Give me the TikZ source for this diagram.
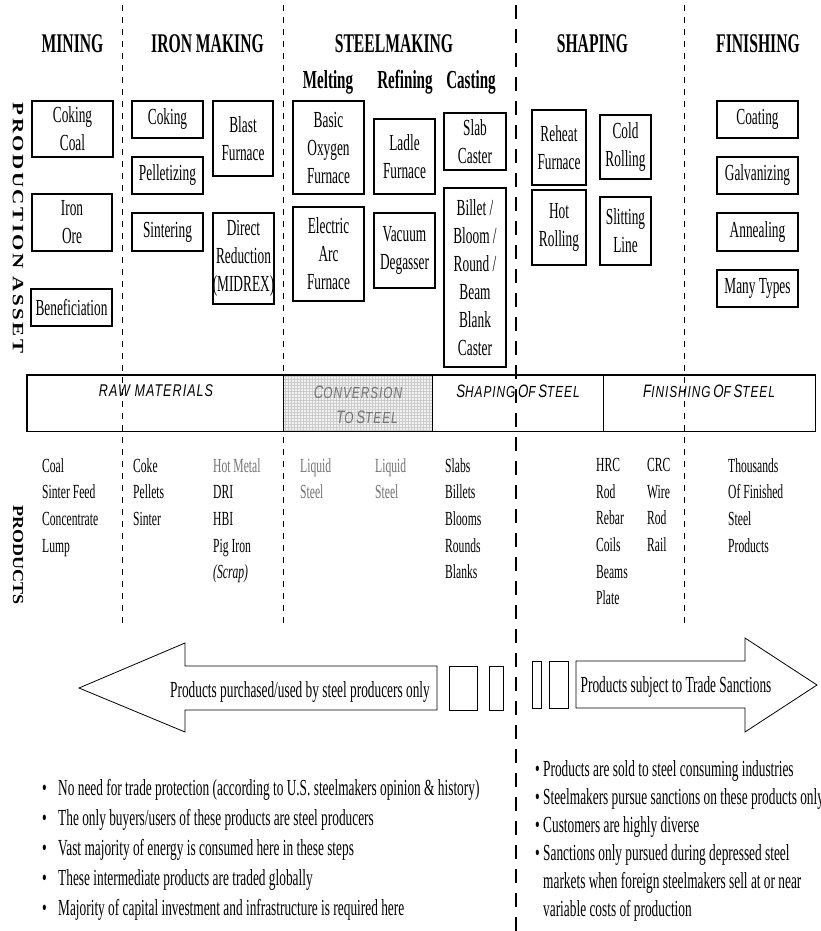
\documentclass[tikz,border=0pt]{standalone}
\usepackage{fontspec}
\setmainfont{Liberation Serif}[FakeStretch=0.58]
\newfontfamily\bannerfont{Liberation Sans}[FakeStretch=0.74,LetterSpace=6]
\newfontfamily\sidefont{Liberation Serif}
\newfontfamily\sidespaced{Liberation Serif}[LetterSpace=12]
\usetikzlibrary{patterns}

\newcommand\boxfont{\fontsize{23}{28}\selectfont}
\newcommand\prodfont{\fontsize{20}{26.7}\selectfont}
\newcommand\listfont{\fontsize{23}{30}\selectfont}
\newcommand\headfont{\fontsize{27}{30}\selectfont\bfseries}
\newcommand\subheadfont{\fontsize{26}{30}\selectfont\bfseries}
\newcommand\bsc[2]{{\fontsize{18}{20}\selectfont #1}{\fontsize{16}{20}\selectfont #2}}

\tikzset{
  asset/.style={draw, line width=1.2pt, align=center, inner sep=0pt, font=\boxfont},
  heading/.style={font=\headfont, inner sep=0pt, anchor=base},
  subheading/.style={font=\subheadfont, inner sep=0pt, anchor=base},
  product/.style={font=\prodfont, align=left, inner sep=0pt, anchor=north west},
  cell/.style={draw, line width=1pt, inner sep=0pt, minimum height=56pt},
  celltext/.style={font=\bannerfont\itshape, inner sep=0pt, align=center},
  stage/.style={dash pattern=on 6pt off 6pt, line width=0.7pt},
  divide/.style={dash pattern=on 14pt off 10pt, line width=2.2pt},
  banner arrow/.style={draw, line width=0.8pt, fill=white},
  bullets/.style={font=\listfont, align=left, inner sep=0pt, anchor=north west},
  sidelabel/.style={rotate=-90, inner sep=0pt},
}

\begin{document}
\begin{tikzpicture}[x=1pt,y=-1pt]
\fill[white] (0,0) rectangle (821,931);
\useasboundingbox (0,0) rectangle (821,931);

% stage headings
\node(mining)[heading] at (72.5,53){MINING};
\node(ironmaking)[heading] at (207.5,53){IRON MAKING};
\node(steelmaking)[heading] at (394,53){STEELMAKING};
\node(shaping)[heading] at (592.5,53){SHAPING};
\node(finishing)[heading] at (758,53){FINISHING};
\node(melting)[subheading] at (328,89){Melting};
\node(refining)[subheading] at (405,89){Refining};
\node(casting)[subheading] at (471,89){Casting};

% side labels
\node(assetlabel)[sidelabel] at (18,228){\scalebox{1}[0.75]{\sidespaced\bfseries\fontsize{21}{22}\selectfont PRODUCTION ASSET}};
\node(productlabel)[sidelabel] at (18,555){\scalebox{1}[0.85]{\sidefont\bfseries\fontsize{18}{20}\selectfont PRODUCTS}};

% production assets
\node(cokingcoal)[asset,minimum width=81pt,minimum height=56pt] at (72.5,129){Coking\\Coal};
\node(ironore)[asset,minimum width=80pt,minimum height=57pt] at (72,222.5){Iron\\Ore};
\node(benefic)[asset,minimum width=81pt,minimum height=37pt] at (71.5,307.5){Beneficiation};
\node(coking)[asset,minimum width=71pt,minimum height=37pt] at (167.5,119.5){Coking};
\node(pellet)[asset,minimum width=71pt,minimum height=37pt] at (167.5,175.5){Pelletizing};
\node(sinter)[asset,minimum width=71pt,minimum height=38pt] at (167.5,232){Sintering};
\node(blast)[asset,minimum width=60pt,minimum height=75pt] at (243,138.5){Blast\\Furnace};
\node(midrex)[asset,line width=2.2pt,minimum width=61pt,minimum height=91pt] at (243.5,258.5){Direct\\Reduction\\(MIDREX)};
\node(bof)[asset,minimum width=71pt,minimum height=93pt] at (328.5,147.5){Basic\\Oxygen\\Furnace};
\node(eaf)[asset,minimum width=71pt,minimum height=94pt] at (328.5,254){Electric\\Arc\\Furnace};
\node(ladle)[asset,minimum width=61pt,minimum height=75pt] at (404.5,156.5){Ladle\\Furnace};
\node(vacuum)[asset,minimum width=61pt,minimum height=75pt] at (404.5,250.5){Vacuum\\Degasser};
\node(slab)[asset,minimum width=62pt,minimum height=57pt] at (475,141.5){Slab\\Caster};
\node(billet)[asset,minimum width=62pt,minimum height=179pt] at (475,277.5){Billet /\\Bloom /\\Round /\\Beam\\Blank\\Caster};
\node(reheat)[asset,minimum width=54pt,minimum height=75pt] at (559,147.5){Reheat\\Furnace};
\node(hotroll)[asset,minimum width=54pt,minimum height=75pt] at (559,227.5){Hot\\Rolling};
\node(coldroll)[asset,minimum width=51pt,minimum height=64pt] at (625.5,147){Cold\\Rolling};
\node(slitting)[asset,minimum width=51pt,minimum height=68pt] at (625.5,231){Slitting\\Line};
\node(coating)[asset,minimum width=81pt,minimum height=37pt] at (757.5,119.5){Coating};
\node(galv)[asset,minimum width=81pt,minimum height=37pt] at (757.5,175.5){Galvanizing};
\node(anneal)[asset,minimum width=81pt,minimum height=38pt] at (757.5,232){Annealing};
\node(manytypes)[asset,minimum width=81pt,minimum height=37pt] at (757.5,288.5){Many Types};

% banner
\node(rawcell)[cell,minimum width=256pt] at (155,403){};
\node(convcell)[cell,minimum width=149pt,preaction={fill=gray!10},pattern=grid,pattern color=gray!40] at (357.5,403){};
\node(shapecell)[cell,minimum width=171pt] at (517.5,403){};
\node(fincell)[cell,minimum width=212pt] at (709,403){};
\draw[line width=1.6pt] (rawcell.north west) rectangle (fincell.south east);
\node(rawtext)[celltext] at (156,391){\fontsize{17}{20}\selectfont RAW MATERIALS};
\node(convtop)[celltext,text=black!55] at (358,392){\bsc{C}{ONVERSION}};
\node(convbottom)[celltext,text=black!55] at (367,417){\bsc{T}{O} \bsc{S}{TEEL}};
\node(shapetext)[celltext] at (518,391){\bsc{S}{HAPING} \bsc{O}{F} \bsc{S}{TEEL}};
\node(fintext)[celltext] at (709,391){\bsc{F}{INISHING} \bsc{O}{F} \bsc{S}{TEEL}};

% products
\node(mineprod)[product] at (42,458){Coal\\Sinter Feed\\Concentrate\\Lump};
\node(ironprod)[product] at (133,458){Coke\\Pellets\\Sinter};
\node(metalprod)[product] at (213,458){\textcolor{black!55}{Hot Metal}\\DRI\\HBI\\Pig Iron\\\textit{(Scrap)}};
\node(meltprod)[product,text=black!55] at (300,458){Liquid\\Steel};
\node(refineprod)[product,text=black!55] at (375,458){Liquid\\Steel};
\node(castprod)[product] at (445,458){Slabs\\Billets\\Blooms\\Rounds\\Blanks};
\node(hotprod)[product] at (596,458){HRC\\Rod\\Rebar\\Coils\\Beams\\Plate};
\node(coldprod)[product] at (647,458){CRC\\Wire\\Rod\\Rail};
\node(finprod)[product] at (728,458){Thousands\\Of Finished\\Steel\\Products};

% arrows
\draw[banner arrow] (437,666) -- (185,666) -- (185,643) -- (79,688) -- (185,732) -- (185,710) -- (437,710) -- cycle;
\draw[banner arrow] (576,661) -- (745,661) -- (745,638) -- (817,685) -- (745,732) -- (745,708) -- (576,708) -- cycle;
\draw[line width=0.8pt] (449,666) rectangle (477,710);
\draw[line width=0.8pt] (489,666) rectangle (503,710);
\draw[line width=0.8pt] (532,661) rectangle (541,708);
\draw[line width=0.8pt] (549,661) rectangle (568,708);
\node(onlyprod)[font=\listfont,inner sep=0pt,anchor=base] at (300,697){Products purchased/used by steel producers only};
\node(sanctprod)[font=\listfont,inner sep=0pt,anchor=base] at (676,692){Products subject to Trade Sanctions};

% notes
\node(producernotes)[bullets] at (42,779){\makebox[16pt][l]{\textbullet}No need for trade protection (according to U.S. steelmakers opinion \& history)\\
\makebox[16pt][l]{\textbullet}The only buyers/users of these products are steel producers\\
\makebox[16pt][l]{\textbullet}Vast majority of energy is consumed here in these steps\\
\makebox[16pt][l]{\textbullet}These intermediate products are traded globally\\
\makebox[16pt][l]{\textbullet}Majority of capital investment and infrastructure is required here};
\node(sanctionnotes)[bullets,font=\fontsize{23}{28}\selectfont] at (535,760){\makebox[8pt][l]{\textbullet}Products are sold to steel consuming industries\\
\makebox[8pt][l]{\textbullet}Steelmakers pursue sanctions on these products only\\
\makebox[8pt][l]{\textbullet}Customers are highly diverse\\
\makebox[8pt][l]{\textbullet}Sanctions only pursued during depressed steel\\
\makebox[8pt][l]{}markets when foreign steelmakers sell at or near\\
\makebox[8pt][l]{}variable costs of production};

% stage dividers
\draw[stage] (122,5) -- (122,625);
\draw[stage] (283,5) -- (283,625);
\draw[stage] (684,5) -- (684,625);
\draw[divide] (516,5) -- (516,931);
\end{tikzpicture}
\end{document}
